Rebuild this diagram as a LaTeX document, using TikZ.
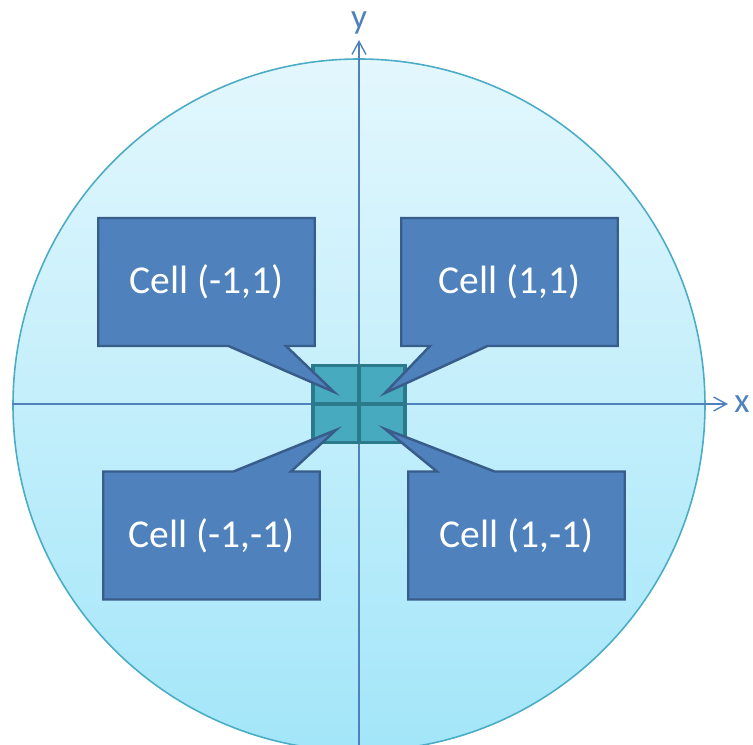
\documentclass[tikz,border=0pt]{standalone}
\usepackage{fontspec}
\setmainfont{Carlito}
\usetikzlibrary{positioning, arrows.meta, shapes.callouts}
\definecolor{DiscEdge}{HTML}{4BACC6}
\definecolor{DiscTop}{HTML}{E3F7FD}
\definecolor{DiscBottom}{HTML}{A3E6F9}
\definecolor{Axis}{HTML}{4F81BD}
\definecolor{Note}{HTML}{4F81BD}
\definecolor{NoteEdge}{HTML}{385D8A}
\definecolor{Cell}{HTML}{48AABF}
\definecolor{CellEdge}{HTML}{2B7A8B}
\tikzset{
    disc/.style={circle, draw=DiscEdge, line width=0.9pt, top color=DiscTop, bottom color=DiscBottom, minimum size=13.84cm, inner sep=0pt},
    axisline/.style={draw=Axis, line width=0.8pt, -{Straight Barb[length=0.26cm, width=0.28cm]}},
    axislabel/.style={text=Axis, font=\fontsize{20}{23}\selectfont, inner sep=0pt},
    gridcell/.style={rectangle, fill=Cell, draw=CellEdge, line width=1.9pt, minimum width=0.92cm, minimum height=0.77cm, inner sep=0pt},
    cellnote/.style={rectangle callout, fill=Note, draw=NoteEdge, line width=1.4pt, text=white, font=\fontsize{22.5}{26}\selectfont,
                     minimum width=4.33cm, minimum height=2.56cm, callout pointer width=1.15cm},
}

\begin{document}
\begin{tikzpicture}

    \useasboundingbox (-7.18,-6.80) rectangle (7.88,8.10);

    % --- disco di sfondo ---
    \node[disc] (disc) at (0,0) {};

    % --- assi ---
    \coordinate (xbeg) at (-6.94,0.02);
    \coordinate (xend) at (7.38,0.02);
    \coordinate (ybeg) at (0,-6.90);
    \coordinate (yend) at (0,7.30);
    \draw[axisline] (xbeg) -- (xend);
    \draw[axisline] (ybeg) -- (yend);
    \node[axislabel, right=0.12cm of xend] (xlab) {x};
    \node[axislabel, above=0.10cm of yend] (ylab) {y};

    % --- celle attorno all'origine ---
    \node[gridcell] (cellA) at (-0.46, 0.405) {};
    \node[gridcell] (cellB) at ( 0.46, 0.405) {};
    \node[gridcell] (cellC) at (-0.46,-0.365) {};
    \node[gridcell] (cellD) at ( 0.46,-0.365) {};

    % punte dei fumetti
    \coordinate (tipA) at (-0.50, 0.26);
    \coordinate (tipB) at ( 0.52, 0.24);
    \coordinate (tipC) at (-0.46,-0.50);
    \coordinate (tipD) at ( 0.52,-0.48);

    % --- fumetti ---
    \node[cellnote, callout absolute pointer={(tipA)}] (noteA) at (-3.05, 2.46) {Cell (-1,1)};
    \node[cellnote, callout absolute pointer={(tipB)}] (noteB) at ( 3.01, 2.46) {Cell (1,1)};
    \node[cellnote, callout absolute pointer={(tipC)}] (noteC) at (-2.95,-2.61) {Cell (-1,-1)};
    \node[cellnote, callout absolute pointer={(tipD)}] (noteD) at ( 3.15,-2.61) {Cell (1,-1)};

\end{tikzpicture}
\end{document}
